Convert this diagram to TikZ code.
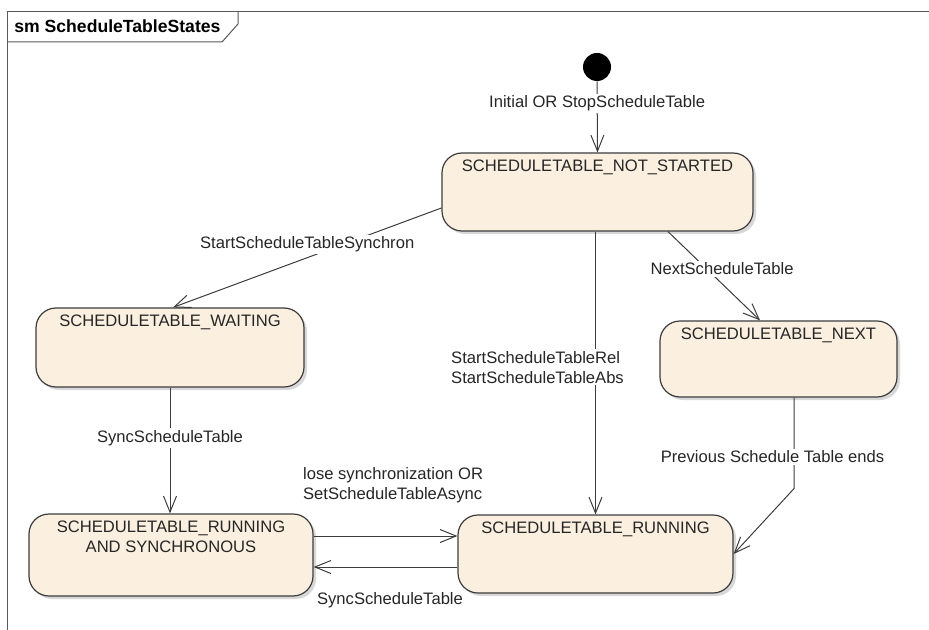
\documentclass[tikz,border=0pt]{standalone}
\usepackage{fontspec}
\setmainfont{Liberation Sans}
\usetikzlibrary{arrows.meta,shadows}
\definecolor{statefill}{RGB}{251,240,224}
\definecolor{lineclr}{RGB}{60,60,60}

\begin{document}
\begin{tikzpicture}[x=0.5pt,y=-0.5pt,
    font=\fontsize{8.3}{10}\selectfont,
    >={Straight Barb[length=8pt,width=6.5pt]},
    sbox/.style={draw=lineclr,line width=0.6pt,fill=statefill,rounded corners=10pt,
      drop shadow={shadow xshift=1.5pt,shadow yshift=-1.5pt,fill=black!30}},
    stlabel/.style={anchor=north,inner sep=1pt,yshift=-2.75pt,text=black!85},
    trans/.style={->,draw=lineclr,line width=0.5pt},
    elabel/.style={fill=white,inner sep=1pt,text=black!85},
    frame/.style={draw=black!65,line width=0.5pt}]
   \useasboundingbox (0,0) rectangle (929,630);

   % frame and tab
   \draw[frame] (7,630) -- (7,12) -- (929,12);
   \draw[frame] (7,42) -- (222,42) -- (238,24) -- (238,12);
   \node[anchor=west,inner sep=1pt,font=\fontsize{8.8}{10}\selectfont\bfseries] (title) at (12,26) {sm ScheduleTableStates};

   % states
   \node[circle,fill=black,minimum size=14pt,inner sep=0pt] (init) at (597,67) {};
   \node[sbox,minimum width=155.5pt,minimum height=39pt,
     label={[stlabel]north:SCHEDULETABLE\_NOT\_STARTED}] (notstarted) at (597.5,192) {};
   \node[sbox,minimum width=134pt,minimum height=39.5pt,
     label={[stlabel]north:SCHEDULETABLE\_WAITING}] (waiting) at (170,347.5) {};
   \node[sbox,minimum width=118.5pt,minimum height=38pt,
     label={[stlabel]north:SCHEDULETABLE\_NEXT}] (next) at (778.5,359) {};
   \node[sbox,minimum width=142pt,minimum height=41pt,
     label={[stlabel,align=center]north:SCHEDULETABLE\_RUNNING\\AND SYNCHRONOUS}] (runsync) at (171,555) {};
   \node[sbox,minimum width=137.5pt,minimum height=39pt,
     label={[stlabel]north:SCHEDULETABLE\_RUNNING}] (running) at (595.5,554) {};

   % transitions
   \draw[trans] (init.south) -- node[elabel,pos=0.31] {Initial OR StopScheduleTable} (notstarted.north);
   \draw[trans] ([yshift=-8pt]notstarted.west) -- node[elabel,midway,yshift=6.5pt] {StartScheduleTableSynchron} ([xshift=1.5pt]waiting.north);
   \draw[trans] (notstarted.south -| running.north) -- node[elabel,pos=0.48,xshift=-29pt,align=left] {StartScheduleTableRel\\StartScheduleTableAbs} (running.north);
   \draw[trans] ([xshift=35.25pt]notstarted.south) -- node[elabel,pos=0.42,xshift=7.7pt] {NextScheduleTable} ([xshift=-9.25pt]next.north);
   \draw[trans] ([xshift=7.75pt]next.south) -- node[elabel,pos=0.65,xshift=-10.75pt] {Previous Schedule Table ends} ++(0,91) -- (running.east);
   \draw[trans] (waiting.south) -- node[elabel,pos=0.4] {SyncScheduleTable} (waiting.south |- runsync.north);
   \draw[trans] ([yshift=9.5pt]runsync.east) -- node[elabel,pos=0,anchor=west,xshift=-6.5pt,yshift=25.5pt,align=left] {lose synchronization OR\\SetScheduleTableAsync} ([yshift=9.5pt]runsync.east -| running.west);
   \draw[trans] ([yshift=-6.5pt]running.west) -- node[elabel,midway,xshift=2.25pt,yshift=-16.5pt] {SyncScheduleTable} ([yshift=-6.5pt]running.west -| runsync.east);
\end{tikzpicture}
\end{document}
